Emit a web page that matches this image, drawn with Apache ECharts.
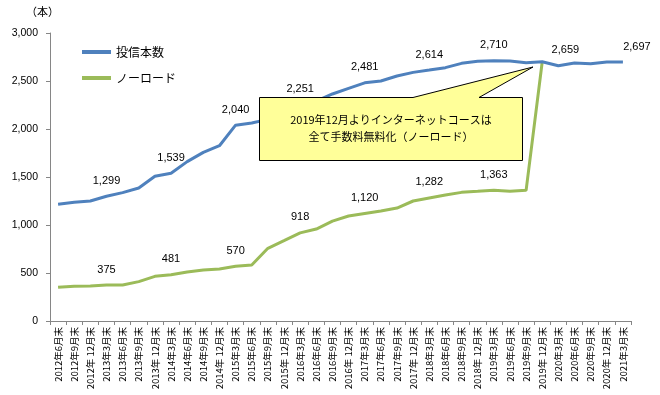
<!DOCTYPE html>
<html>
<head>
<meta charset="utf-8">
<script src="https://cdn.jsdelivr.net/npm/echarts@6/dist/echarts.min.js"></script>
<style>
html,body{margin:0;padding:0;background:#fff;}
#chart{width:660px;height:395px;}
</style>
</head>
<body>
<div id="chart"></div>
<script>
var categories = ["2012年6月末","2012年9月末","2012年 12月末","2013年3月末","2013年6月末","2013年9月末","2013年 12月末","2014年3月末","2014年6月末","2014年9月末","2014年 12月末","2015年3月末","2015年6月末","2015年9月末","2015年 12月末","2016年3月末","2016年6月末","2016年9月末","2016年 12月末","2017年3月末","2017年6月末","2017年9月末","2017年 12月末","2018年3月末","2018年6月末","2018年9月末","2018年 12月末","2019年3月末","2019年6月末","2019年9月末","2019年 12月末","2020年3月末","2020年6月末","2020年9月末","2020年 12月末","2021年3月末"];
var fundCount = [1215,1236,1250,1299,1337,1385,1507,1539,1660,1757,1826,2040,2062,2100,2180,2251,2290,2365,2424,2481,2500,2552,2590,2614,2639,2684,2705,2710,2708,2691,2701,2659,2687,2680,2698,2697];
var noLoad = [351,361,365,375,375,410,465,481,510,531,542,570,583,757,837,918,958,1040,1094,1120,1146,1177,1250,1282,1312,1340,1351,1363,1351,1361,2700];
var fundLabelIdx = [3,7,11,15,19,23,27,31,35];
var noLoadLabelIdx = [3,7,11,15,19,23,27];
var yTicks = {min:0, max:3000, interval:500};
var seriesNames = ["投信本数","ノーロード"];
var unitText = "（本）";
var noteLines = ["2019年12月よりインターネットコースは","全て手数料無料化（ノーロード）"];

var FONT = '"Noto Sans CJK JP", "Noto Sans", sans-serif';
var NUMFONT = '"Liberation Sans", sans-serif';
function fmt(v){ return Number(v).toLocaleString('en-US'); }
var labelOffsets = {31:[7,0], 35:[14,0]};
function build(vals, idxs){
  return vals.map(function(v,i){
    if (idxs.indexOf(i) >= 0) {
      return {value:v, label:{show:true, offset: labelOffsets[i] || [0,0]}};
    }
    return v;
  });
}

var chart = echarts.init(document.getElementById('chart'), null, {renderer:'canvas'});
chart.setOption({
  animation:false,
  textStyle:{fontFamily:FONT},
  grid:{left:50, right:29, top:33, bottom:74},
  legend:{
    orient:'vertical', left:77, top:41, itemGap:14,
    itemWidth:29, itemHeight:4, icon:'rect',
    textStyle:{fontSize:12, color:'#000', fontFamily:FONT},
    data:seriesNames
  },
  xAxis:{
    type:'category', data:categories, boundaryGap:true,
    axisLine:{lineStyle:{color:'#868686'}},
    axisTick:{show:true, length:4, lineStyle:{color:'#868686'}},
    axisLabel:{interval:0, rotate:90, fontSize:9.5, color:'#000', margin:6, fontFamily:FONT}
  },
  yAxis:{
    type:'value', min:yTicks.min, max:yTicks.max, interval:yTicks.interval,
    splitLine:{show:false},
    axisLine:{show:true, lineStyle:{color:'#868686'}},
    axisTick:{show:true, length:4, lineStyle:{color:'#868686'}},
    axisLabel:{formatter:fmt, fontSize:10.5, color:'#000', margin:12, fontFamily:NUMFONT}
  },
  series:[
    {
      name:seriesNames[1], type:'line', data:build(noLoad, noLoadLabelIdx),
      symbol:'circle', symbolSize:0.01, showSymbol:true,
      lineStyle:{color:'#9BBB59', width:3}, itemStyle:{color:'#9BBB59'}, z:2,
      label:{show:false, position:'top', distance:10, formatter:function(p){return fmt(p.value);}, fontSize:11, color:'#000', fontFamily:NUMFONT}
    },
    {
      name:seriesNames[0], type:'line', data:build(fundCount, fundLabelIdx),
      symbol:'circle', symbolSize:0.01, showSymbol:true,
      lineStyle:{color:'#4F81BD', width:3}, itemStyle:{color:'#4F81BD'}, z:3,
      label:{show:false, position:'top', distance:10, formatter:function(p){return fmt(p.value);}, fontSize:11, color:'#000', fontFamily:NUMFONT}
    }
  ],
  graphic:[
    {type:'text', left:26, top:6, style:{text:unitText, fontSize:11, fill:'#000', fontFamily:FONT}},
    {type:'polygon', z:100, shape:{points:[[259.5,97.5],[413,97.5],[533,67],[479,97.5],[522.5,97.5],[522.5,160.5],[259.5,160.5]]},
      style:{fill:'#FFFF99', stroke:'#000', lineWidth:1}},
    {type:'text', z:101, x:391, y:120, style:{text:noteLines[0], fontSize:11, fill:'#000', align:'center', verticalAlign:'middle', fontFamily:FONT}},
    {type:'text', z:101, x:391, y:137, style:{text:noteLines[1], fontSize:11, fill:'#000', align:'center', verticalAlign:'middle', fontFamily:FONT}}
  ]
});
</script>
</body>
</html>
